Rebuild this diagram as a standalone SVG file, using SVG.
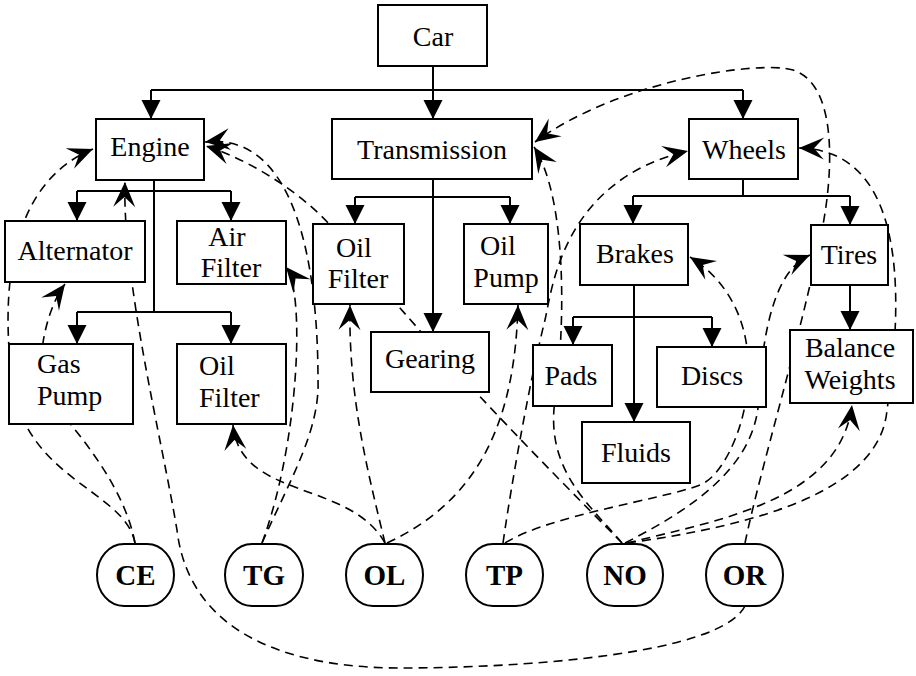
<svg xmlns="http://www.w3.org/2000/svg" width="916" height="676" viewBox="0 0 916 676">
  <style>
    .box { fill: #fff; stroke: #000; stroke-width: 2; }
    .lbl { font-size: 28px; fill: #000; text-anchor: middle; }
    .lft { text-anchor: start; }
    .bold { font-weight: bold; font-size: 29px; }
    .tree { fill: none; stroke: #000; stroke-width: 2; }
    .arr { marker-end: url(#tri); }
    .dep { fill: none; stroke: #000; stroke-width: 1.6; stroke-dasharray: 9 6; marker-end: url(#stealth); }
  </style>
  <defs>
    <!-- filled triangle for the part-of hierarchy -->
    <marker id="tri" markerUnits="userSpaceOnUse" markerWidth="22" markerHeight="22" viewBox="-20 -11 22 22" refX="0" refY="0" orient="auto">
      <path d="M0,0 L-19,-9.5 L-19,9.5 Z" fill="#000" stroke="none"/>
    </marker>
    <!-- notched dart for the dashed dependency links -->
    <marker id="stealth" markerUnits="userSpaceOnUse" markerWidth="30" markerHeight="28" viewBox="-28 -14 30 28" refX="0" refY="0" orient="auto">
      <path d="M0,0 L-25,-11 L-15,0 L-25,11 Z" fill="#000" stroke="none"/>
    </marker>
  </defs>

  <g id="connectors">
    <!-- hierarchy -->
    <path class="tree" d="M433,66 V90 M151,90 H743"/>
    <path class="tree arr" d="M151,90 V119"/>
    <path class="tree arr" d="M433,90 V119"/>
    <path class="tree arr" d="M743,90 V119"/>

    <path class="tree" d="M154,180 V312 M77,191 H231 M77,312 H231"/>
    <path class="tree arr" d="M77,191 V221"/>
    <path class="tree arr" d="M231,191 V221"/>
    <path class="tree arr" d="M77,312 V344"/>
    <path class="tree arr" d="M231,312 V344"/>

    <path class="tree" d="M355,197 H510"/>
    <path class="tree arr" d="M433,179 V332"/>
    <path class="tree arr" d="M355,197 V224"/>
    <path class="tree arr" d="M510,197 V224"/>

    <path class="tree" d="M743,179 V196 M633,196 H850"/>
    <path class="tree arr" d="M633,196 V224"/>
    <path class="tree arr" d="M850,196 V225"/>

    <path class="tree" d="M573,317 H712"/>
    <path class="tree arr" d="M634,285 V422"/>
    <path class="tree arr" d="M573,317 V345"/>
    <path class="tree arr" d="M712,317 V347"/>

    <path class="tree arr" d="M850,285 V330"/>

    <!-- dependencies -->
    <path class="dep" d="M135,543 C125,490 25,480 12,380 C2,300 5,185 93,149"/>
    <path class="dep" d="M135,543 C125,490 85,440 50,400 C33,380 42,315 65,284"/>
    <path class="dep" d="M262,543 C300,440 305,290 286,267"/>
    <path class="dep" d="M262,543 C290,480 320,430 318,380 C318,310 310,130 205,142"/>
    <path class="dep" d="M385,543 C350,480 240,500 233,425"/>
    <path class="dep" d="M385,543 C370,480 348,400 350,305"/>
    <path class="dep" d="M387,543 C480,500 515,420 518,305"/>
    <path class="dep" d="M503,543 C512,480 530,380 545,320 C552,290 562,180 688,151"/>
    <path class="dep" d="M505,543 C550,515 660,500 700,485 C740,470 790,320 690,257"/>
    <path class="dep" d="M622,543 C540,460 440,360 330,225 C300,192 250,160 206,146"/>
    <path class="dep" d="M622,543 C590,505 545,470 555,400 C565,330 568,200 534,147"/>
    <path class="dep" d="M625,543 C690,510 750,470 758,408 C762,330 775,270 810,255"/>
    <path class="dep" d="M627,543 C720,520 840,500 852,405"/>
    <path class="dep" d="M627,543 C760,525 880,490 887,410 C900,320 915,150 799,148"/>
    <path class="dep" d="M745,606 C720,655 520,668 400,668 C300,668 190,640 177,530 C162,440 122,280 125,182"/>
    <path class="dep" d="M745,543 C760,470 800,340 822,230 C832,180 840,85 793,70 C760,60 620,80 535,142"/>
  </g>

  <g font-family="'Liberation Serif', 'DejaVu Serif', serif">
  <g id="car"><rect class="box" x="378" y="5" width="109" height="61"/><text class="lbl" x="433" y="46">Car</text></g>
  <g id="engine"><rect class="box" x="96" y="119" width="108" height="61"/><text class="lbl" x="150" y="156">Engine</text></g>
  <g id="transmission"><rect class="box" x="332" y="119" width="200" height="60"/><text class="lbl" x="432" y="159">Transmission</text></g>
  <g id="wheels"><rect class="box" x="689" y="119" width="109" height="60"/><text class="lbl" x="744" y="159">Wheels</text></g>

  <g id="alternator"><rect class="box" x="5" y="221" width="140" height="61"/><text class="lbl" x="75" y="260">Alternator</text></g>
  <g id="air-filter"><rect class="box" x="177" y="221" width="109" height="63"/><text class="lbl" x="227" y="246">Air</text><text class="lbl" x="231" y="277">Filter</text></g>
  <g id="gas-pump"><rect class="box" x="9" y="344" width="124" height="80"/><text class="lbl lft" x="37" y="373">Gas</text><text class="lbl lft" x="37" y="405">Pump</text></g>
  <g id="engine-oil-filter"><rect class="box" x="177" y="344" width="109" height="80"/><text class="lbl lft" x="199" y="375">Oil</text><text class="lbl lft" x="199" y="407">Filter</text></g>

  <g id="trans-oil-filter"><rect class="box" x="313" y="224" width="91" height="80"/><text class="lbl" x="354" y="257">Oil</text><text class="lbl" x="358" y="288">Filter</text></g>
  <g id="oil-pump"><rect class="box" x="464" y="224" width="84" height="80"/><text class="lbl" x="498" y="255">Oil</text><text class="lbl" x="506" y="287">Pump</text></g>
  <g id="gearing"><rect class="box" x="371" y="332" width="118" height="60"/><text class="lbl" x="430" y="368">Gearing</text></g>

  <g id="brakes"><rect class="box" x="580" y="224" width="108" height="61"/><text class="lbl" x="635" y="263">Brakes</text></g>
  <g id="tires"><rect class="box" x="811" y="225" width="77" height="60"/><text class="lbl" x="849" y="264">Tires</text></g>
  <g id="pads"><rect class="box" x="533" y="345" width="79" height="61"/><text class="lbl" x="571" y="385">Pads</text></g>
  <g id="discs"><rect class="box" x="657" y="347" width="109" height="60"/><text class="lbl" x="712" y="385">Discs</text></g>
  <g id="fluids"><rect class="box" x="582" y="422" width="108" height="61"/><text class="lbl" x="636" y="462">Fluids</text></g>
  <g id="balance-weights"><rect class="box" x="790" y="330" width="123" height="73"/><text class="lbl" x="850" y="357">Balance</text><text class="lbl" x="850" y="389">Weights</text></g>

  <g id="CE"><rect class="box" x="97" y="544" width="77" height="62" rx="27" ry="31"/><text class="lbl bold" x="135.5" y="585">CE</text></g>
  <g id="TG"><rect class="box" x="225" y="544" width="78" height="62" rx="27" ry="31"/><text class="lbl bold" x="264" y="585">TG</text></g>
  <g id="OL"><rect class="box" x="346" y="544" width="77" height="62" rx="27" ry="31"/><text class="lbl bold" x="384.5" y="585">OL</text></g>
  <g id="TP"><rect class="box" x="466" y="544" width="77" height="62" rx="27" ry="31"/><text class="lbl bold" x="504.5" y="585">TP</text></g>
  <g id="NO"><rect class="box" x="587" y="544" width="76" height="62" rx="27" ry="31"/><text class="lbl bold" x="625" y="585">NO</text></g>
  <g id="OR"><rect class="box" x="706" y="544" width="77" height="62" rx="27" ry="31"/><text class="lbl bold" x="744.5" y="585">OR</text></g>
  </g>
</svg>
